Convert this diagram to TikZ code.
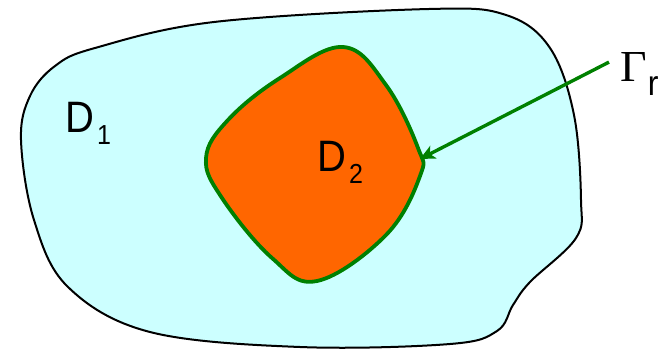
\documentclass[tikz,border=0pt]{standalone}
\usepackage{fontspec}
\setmainfont{Liberation Sans}
\newfontfamily\gammafont{Liberation Serif}
\usetikzlibrary{arrows.meta}

\definecolor{lightcyan}{HTML}{CCFFFF}
\definecolor{orangefill}{HTML}{FF6600}
\definecolor{edgegreen}{HTML}{008000}

\tikzset{
  region/.style={draw=black, line width=2pt, fill=lightcyan},
  subregion/.style={draw=edgegreen, line width=3.8pt, fill=orangefill},
  pointer/.style={draw=edgegreen, line width=3.4pt, -{Stealth[length=15pt,width=14pt,inset=4pt]}},
  regionname/.style={inner sep=0pt, font=\fontsize{40}{40}\selectfont}
}
\newcommand{\lowsub}[1]{\hspace{3pt}\raisebox{-11pt}{\fontsize{25}{25}\selectfont #1}}
\newcommand{\tall}[1]{\scalebox{1}[1.1]{#1}}

\begin{document}
\begin{tikzpicture}[x=1pt, y=-1pt]
        \useasboundingbox (0,0) rectangle (666,350);

        % Outer region D1
        \draw[region] plot[smooth cycle, tension=0.6] coordinates {
          (21,140) (30,96) (55,66) (95,48) (214,22) (429,9) (506,15)
          (550,48) (574,115) (581,200) (576,238) (530,282) (513,305)
          (497,331) (450,344) (300,347) (150,332) (68,287) (34,220)};

        % Inner region D2
        \draw[subregion] plot[smooth cycle, tension=0.65] coordinates {
          (343,47) (386,85) (418,148) (420,176) (386,235) (317,281)
          (272,258) (222,198) (206,158) (228,120) (280,78)};

        \coordinate (tip) at (420,159);

        % Labels
        \node[regionname, anchor=base west] (d1) at (65,132) {\tall{D\lowsub{1}}};
        \node[regionname, anchor=base west] (d2) at (317,171) {\tall{D\lowsub{2}}};
        \node[inner sep=0pt, anchor=base west] (gamma) at (620,82)
          {\scalebox{1.12}[1.08]{\gammafont\fontsize{41}{41}\selectfont Γ}\hspace{1pt}\tall{\raisebox{-12pt}{\fontsize{32}{32}\selectfont r}}};

        \draw[pointer] ([xshift=-11pt,yshift=12pt]gamma.west) -- (tip);
    \end{tikzpicture}
\end{document}
